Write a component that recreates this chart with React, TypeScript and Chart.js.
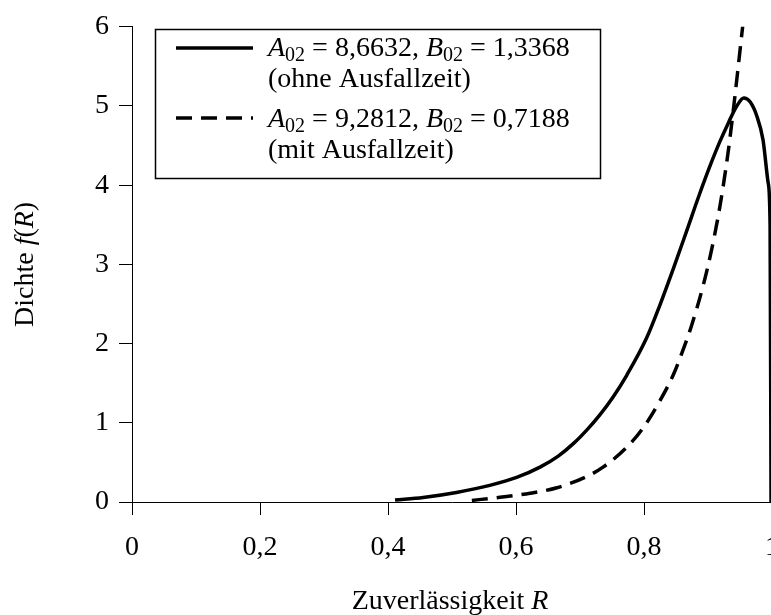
import React, { useEffect, useRef } from "react";
import { Chart, registerables } from "chart.js";

Chart.register(...registerables);

// ---- Data ----
const solidR = [0.411, 0.455, 0.507, 0.559, 0.601, 0.6375, 0.666, 0.69, 0.713, 0.731, 0.752, 0.773, 0.804, 0.825, 0.846, 0.867, 0.886, 0.903, 0.918, 0.932, 0.945, 0.956, 0.966, 0.976, 0.986, 0.994, 0.997, 0.9985];
const solidF = [0.025, 0.058, 0.121, 0.21, 0.31, 0.44, 0.58, 0.74, 0.93, 1.1, 1.33, 1.6, 2.07, 2.49, 2.95, 3.43, 3.87, 4.24, 4.54, 4.79, 5.0, 5.1, 5.05, 4.88, 4.57, 4.03, 3.5, 0];

const dashedR = [0.531, 0.575, 0.622, 0.664, 0.71, 0.736, 0.773, 0.799, 0.825, 0.846, 0.861, 0.874, 0.893, 0.906, 0.919, 0.932, 0.94, 0.947, 0.953, 0.9555];
const dashedF = [0.02, 0.06, 0.11, 0.18, 0.32, 0.44, 0.69, 0.94, 1.28, 1.61, 1.92, 2.22, 2.75, 3.2, 3.75, 4.45, 4.98, 5.48, 5.92, 6.1];

const xTickValues = [0, 0.2, 0.4, 0.6, 0.8, 1];
const xTickLabels = ["0", "0,2", "0,4", "0,6", "0,8", "1"];
const yTickValues = [0, 1, 2, 3, 4, 5, 6];
const yTickLabels = ["0", "1", "2", "3", "4", "5", "6"];

const paramA = ["8,6632", "9,2812"];
const paramB = ["1,3368", "0,7188"];
const seriesNotes = ["(ohne Ausfallzeit)", "(mit Ausfallzeit)"];

const xTitle = "Zuverlässigkeit";
const yTitle = "Dichte";

const FONT = '"Liberation Serif", "Times New Roman", Times, serif';
const FS = 28;
const DASH = [16, 9];

type Part = { t: string; i?: boolean; sub?: boolean };

function drawRich(ctx: CanvasRenderingContext2D, x: number, y: number, parts: Part[], measureOnly = false): number {
  let cx = x;
  for (const p of parts) {
    const size = p.sub ? 20 : FS;
    ctx.font = `${p.i ? "italic " : ""}${size}px ${FONT}`;
    if (!measureOnly) ctx.fillText(p.t, cx, y + (p.sub ? 5 : 0));
    cx += ctx.measureText(p.t).width;
  }
  return cx - x;
}

const overlay = {
  id: "overlay",
  afterDraw(chart: any) {
    const ctx: CanvasRenderingContext2D = chart.ctx;
    const a = chart.chartArea;
    ctx.save();
    ctx.fillStyle = "#000";
    ctx.textBaseline = "alphabetic";
    ctx.textAlign = "left";

    // x title
    const xParts: Part[] = [{ t: xTitle + " " }, { t: "R", i: true }];
    const xw = drawRich(ctx, 0, 0, xParts, true);
    drawRich(ctx, 450 - xw / 2, 609, xParts);

    // y title (rotated)
    const yParts: Part[] = [{ t: yTitle + " " }, { t: "f", i: true }, { t: "(" }, { t: "R", i: true }, { t: ")" }];
    const yw = drawRich(ctx, 0, 0, yParts, true);
    ctx.save();
    ctx.translate(33, (a.top + a.bottom) / 2);
    ctx.rotate(-Math.PI / 2);
    drawRich(ctx, -yw / 2, 0, yParts);
    ctx.restore();

    // legend box
    ctx.strokeStyle = "#000";
    ctx.lineWidth = 1.5;
    ctx.strokeRect(155.5, 29.5, 445, 149);

    const sampleX0 = 176;
    const sampleX1 = 253;
    const textX = 268;
    const entries = [
      { y: 48, base: 56, dash: [] as number[] },
      { y: 118, base: 127, dash: DASH },
    ];
    entries.forEach((e, k) => {
      ctx.beginPath();
      ctx.setLineDash(e.dash);
      ctx.lineWidth = 3.5;
      ctx.lineCap = "butt";
      ctx.moveTo(sampleX0, e.y);
      ctx.lineTo(sampleX1, e.y);
      ctx.stroke();
      ctx.setLineDash([]);
      drawRich(ctx, textX, e.base, [
        { t: "A", i: true },
        { t: "02", sub: true },
        { t: " = " + paramA[k] + ", " },
        { t: "B", i: true },
        { t: "02", sub: true },
        { t: " = " + paramB[k] },
      ]);
      drawRich(ctx, textX, e.base + 31, [{ t: seriesNotes[k] }]);
    });
    ctx.restore();
  },
};

export default function App() {
  const ref = useRef<HTMLCanvasElement | null>(null);

  useEffect(() => {
    if (!ref.current) return;
    const tickFont = { family: FONT, size: FS };
    const chart = new Chart(ref.current, {
      type: "line",
      data: {
        datasets: [
          {
            label: "ohne Ausfallzeit",
            data: solidR.map((r, i) => ({ x: r, y: solidF[i] })),
            borderColor: "#000",
            borderWidth: 3.5,
            pointRadius: 0,
            cubicInterpolationMode: "monotone",
            fill: false,
          },
          {
            label: "mit Ausfallzeit",
            data: dashedR.map((r, i) => ({ x: r, y: dashedF[i] })),
            borderColor: "#000",
            borderWidth: 3.5,
            borderDash: DASH,
            borderCapStyle: "butt",
            pointRadius: 0,
            cubicInterpolationMode: "monotone",
            fill: false,
          },
        ],
      },
      options: {
        responsive: false,
        maintainAspectRatio: false,
        devicePixelRatio: 1,
        animation: false,
        layout: { padding: { top: 22, right: 0, left: 0, bottom: 0 } },
        plugins: { legend: { display: false }, tooltip: { enabled: false } },
        scales: {
          x: {
            type: "linear",
            min: 0,
            max: 1,
            afterBuildTicks: (s: any) => {
              s.ticks = xTickValues.map((v) => ({ value: v }));
            },
            afterFit: (s: any) => {
              s.height = 113;
            },
            ticks: {
              autoSkip: false,
              maxRotation: 0,
              color: "#000",
              font: tickFont,
              padding: 16,
              callback: (_v: any, i: number) => xTickLabels[i],
            },
            grid: { drawOnChartArea: false, drawTicks: true, tickLength: 13, color: "#000", lineWidth: 1 },
            border: { display: true, color: "#000", width: 1 },
          },
          y: {
            type: "linear",
            min: 0,
            max: 6,
            afterBuildTicks: (s: any) => {
              s.ticks = yTickValues.map((v) => ({ value: v }));
            },
            afterFit: (s: any) => {
              s.width = 132;
            },
            ticks: {
              autoSkip: false,
              color: "#000",
              font: tickFont,
              padding: 10,
              callback: (_v: any, i: number) => yTickLabels[i],
            },
            grid: { drawOnChartArea: false, drawTicks: true, tickLength: 13, color: "#000", lineWidth: 1 },
            border: { display: true, color: "#000", width: 1 },
          },
        },
      },
      plugins: [overlay],
    } as any);
    return () => chart.destroy();
  }, []);

  return (
    <div
      style={{
        position: "fixed",
        left: 0,
        top: 0,
        width: 771,
        height: 615,
        overflow: "hidden",
        background: "#fff",
      }}
    >
      <canvas ref={ref} width={795} height={615} style={{ display: "block", width: 795, height: 615 }} />
    </div>
  );
}
